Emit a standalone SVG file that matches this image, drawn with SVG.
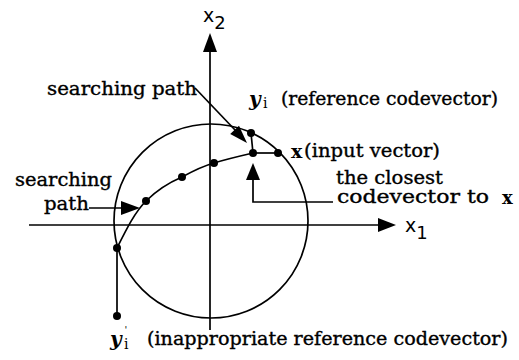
<svg xmlns="http://www.w3.org/2000/svg" width="519" height="360" viewBox="0 0 519 360">
<style>
.ln{fill:none;stroke:#000;stroke-width:1.7}
.ah{fill:#000;stroke:none}
.dot{fill:#000}
.t{font-family:"DejaVu Serif","Liberation Serif",serif;font-size:18px;fill:#000;stroke:#000;stroke-width:0.35}
.ax{font-family:"DejaVu Sans","Liberation Sans",sans-serif;fill:#000}
.b{font-family:"DejaVu Serif","Liberation Serif",serif;font-weight:bold;fill:#000}
.s{font-family:"DejaVu Serif","Liberation Serif",serif;fill:#000}
</style>
<rect width="519" height="360" fill="#fff"/>
<g id="axes">
  <line class="ln" x1="210" y1="50" x2="210" y2="330"/>
  <polygon class="ah" points="210,33 203,52 217,52"/>
  <line class="ln" x1="29" y1="225" x2="380" y2="225"/>
  <polygon class="ah" points="396,225 378,218 378,232"/>
  <text class="ax" x="203" y="22" font-size="19">x<tspan font-size="18" dy="7">2</tspan></text>
  <text class="ax" x="405" y="232" font-size="19">x<tspan font-size="18" dy="7">1</tspan></text>
</g>
<g id="circle">
  <circle class="ln" cx="211" cy="221" r="97"/>
</g>
<g id="connectors">
  <path class="ln" d="M117,248 C127,228 135,212 146,201 C157,190 168,183 182,177 C193,171 203,166 214,163 C227,159 240,156 253,153"/>
  <line class="ln" x1="253" y1="153" x2="278" y2="153"/>
  <line class="ln" x1="253" y1="153" x2="251" y2="133"/>
  <line class="ln" x1="117" y1="248" x2="117" y2="316"/>
  <polyline class="ln" points="333,202 253,202 253,176"/>
  <polygon class="ah" points="253,163 246,180 260,180"/>
  <line class="ln" x1="195" y1="88" x2="236" y2="131"/>
  <polygon class="ah" points="247,143 230.2,134 239,125.8"/>
  <line class="ln" x1="89" y1="208" x2="124" y2="208"/>
  <polygon class="ah" points="140,208 121,201 121,215"/>
</g>
<g id="points">
  <circle class="dot" cx="117" cy="248" r="4"/>
  <circle class="dot" cx="146" cy="201" r="4"/>
  <circle class="dot" cx="182" cy="177" r="4"/>
  <circle class="dot" cx="214" cy="163" r="4"/>
  <circle class="dot" cx="253" cy="153" r="4"/>
  <circle class="dot" cx="278" cy="153" r="4"/>
  <circle class="dot" cx="251" cy="133" r="4"/>
  <circle class="dot" cx="117" cy="316" r="4"/>
</g>
<g id="label-searching-path-top">
  <text class="t" x="47" y="95" textLength="150" lengthAdjust="spacingAndGlyphs">searching path</text>
</g>
<g id="label-searching-path-left">
  <text class="t" x="15" y="186" textLength="97" lengthAdjust="spacingAndGlyphs">searching</text>
  <text class="t" x="44" y="210" textLength="45" lengthAdjust="spacingAndGlyphs">path</text>
</g>
<g id="label-yi">
  <text class="b" x="249" y="106" font-size="20" font-style="italic">y</text>
  <text class="s" x="263" y="108" font-size="14">i</text>
  <text class="t" x="281" y="105" textLength="217" lengthAdjust="spacingAndGlyphs">(reference codevector)</text>
</g>
<g id="label-x">
  <text class="b" x="291" y="158" font-size="19">x</text>
  <text class="t" x="304" y="157" textLength="136" lengthAdjust="spacingAndGlyphs">(input vector)</text>
</g>
<g id="label-closest">
  <text class="t" x="336" y="184" font-size="16" textLength="107" lengthAdjust="spacingAndGlyphs">the closest</text>
  <text class="t" x="337" y="203" font-size="16" textLength="152" lengthAdjust="spacingAndGlyphs">codevector to</text>
  <text class="b" x="502" y="204" font-size="18">x</text>
</g>
<g id="label-yi-prime">
  <text class="b" x="110" y="346" font-size="20" font-style="italic">y</text>
  <text class="s" x="124" y="349" font-size="14">i<tspan x="124.5" y="333" font-size="10">'</tspan></text>
  <text class="t" x="147" y="345" textLength="361" lengthAdjust="spacingAndGlyphs">(inappropriate reference codevector)</text>
</g>
</svg>
